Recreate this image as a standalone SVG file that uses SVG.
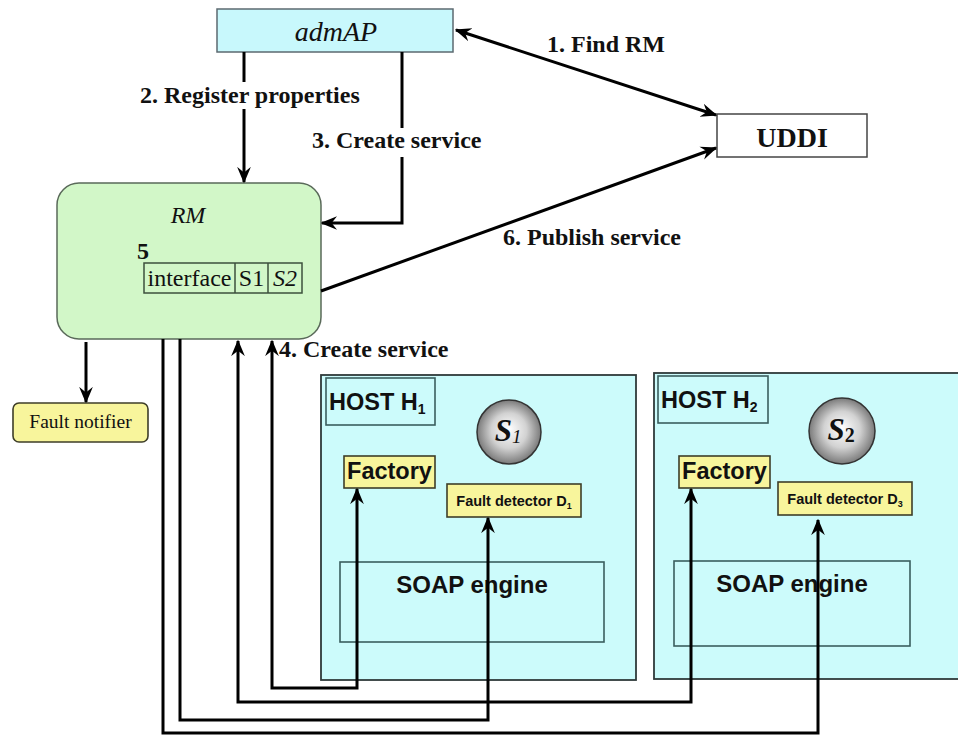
<svg xmlns="http://www.w3.org/2000/svg" width="958" height="735" viewBox="0 0 958 735">
  <defs>
    <style>
      .lbl { font-family: "Liberation Serif", "Times New Roman", serif; font-weight: bold; font-size: 24px; fill: #111; }
      .serif { font-family: "Liberation Serif", "Times New Roman", serif; fill: #111; }
      .sans { font-family: "Liberation Sans", Arial, sans-serif; font-weight: bold; fill: #111; }
      .wire { fill: none; stroke: #000; stroke-width: 3; }
      .host { fill: #ccfbfb; stroke: #2f3a3a; stroke-width: 1.8; }
      .inner { fill: none; stroke: #3a5e5e; stroke-width: 1.6; }
      .yellow { fill: #f8f59c; stroke: #3e3e28; stroke-width: 1.6; }
    </style>
    <marker id="arrow" viewBox="0 0 12 10" refX="11" refY="5" markerWidth="5.5" markerHeight="5.5" orient="auto-start-reverse" markerUnits="strokeWidth">
      <path d="M0,0 L12,5 L0,10 L4,5 z" fill="#000"/>
    </marker>
    <radialGradient id="ball" cx="50%" cy="50%" r="50%" fx="50%" fy="45%">
      <stop offset="0" stop-color="#ffffff"/>
      <stop offset="0.55" stop-color="#d2d2d2"/>
      <stop offset="1" stop-color="#7a7a7a"/>
    </radialGradient>
  </defs>

  <rect width="958" height="735" fill="#ffffff"/>

  <!-- admin access point -->
  <g id="admAP">
    <rect x="217" y="9" width="236" height="43" fill="#c8f8fc" stroke="#5c6a70" stroke-width="1.5"/>
    <text x="336" y="41" class="serif" font-style="italic" font-size="28" text-anchor="middle">admAP</text>
  </g>

  <!-- registry -->
  <g id="UDDI">
    <rect x="717" y="114" width="150" height="43" fill="#ffffff" stroke="#444" stroke-width="1.5"/>
    <text x="792" y="147" class="serif" font-weight="bold" font-size="28" text-anchor="middle">UDDI</text>
  </g>

  <!-- resource manager -->
  <g id="RM">
    <rect x="57" y="183" width="264" height="156" rx="22" ry="22" fill="#d2f7c8" stroke="#5a6a5a" stroke-width="1.5"/>
    <text x="188" y="223" class="serif" font-style="italic" font-size="24" text-anchor="middle">RM</text>
    <text x="137" y="259" class="serif" font-weight="bold" font-size="24">5</text>
    <rect x="144" y="263" width="158" height="30" fill="none" stroke="#3c503c" stroke-width="1.5"/>
    <line x1="235" y1="263" x2="235" y2="293" stroke="#3c503c" stroke-width="1.5"/>
    <line x1="268" y1="263" x2="268" y2="293" stroke="#3c503c" stroke-width="1.5"/>
    <text x="189.5" y="286" class="serif" font-size="24" text-anchor="middle">interface</text>
    <text x="251.5" y="286" class="serif" font-size="24" text-anchor="middle">S1</text>
    <text x="285" y="286" class="serif" font-size="24" text-anchor="middle" font-style="italic">S2</text>
  </g>

  <!-- fault notifier -->
  <g id="fault-notifier">
    <rect x="13" y="403" width="135" height="39" rx="6" ry="6" class="yellow"/>
    <text x="80.5" y="428" class="serif" font-size="19.5" text-anchor="middle">Fault notifier</text>
  </g>

  <!-- host 1 -->
  <g id="host-h1">
    <rect x="321" y="375" width="315" height="305" class="host"/>
    <rect x="326" y="378" width="109" height="47" class="inner"/>
    <text x="329" y="410" class="sans" font-size="23.5">HOST H<tspan font-size="14" dy="4">1</tspan></text>
  </g>
  <g id="service-s1">
    <circle cx="509" cy="432" r="32" fill="url(#ball)" stroke="#333" stroke-width="1.5"/>
    <text x="508" y="441" class="serif" font-style="italic" font-weight="bold" font-size="31" text-anchor="middle">S<tspan font-size="19" dy="2" font-weight="normal">1</tspan></text>
  </g>
  <g id="factory-h1">
    <rect x="344" y="456" width="91" height="32" class="yellow"/>
    <text x="389.5" y="479" class="sans" font-size="23.5" text-anchor="middle">Factory</text>
  </g>
  <g id="detector-d1">
    <rect x="447" y="484" width="134" height="33" class="yellow"/>
    <text x="514" y="506" class="sans" font-size="14.5" text-anchor="middle">Fault detector D<tspan font-size="9" dy="3">1</tspan></text>
  </g>
  <g id="soap-h1">
    <rect x="340" y="562" width="264" height="80" class="inner"/>
    <text x="472" y="593" class="sans" font-size="24" text-anchor="middle">SOAP engine</text>
  </g>

  <!-- host 2 -->
  <g id="host-h2">
    <rect x="654" y="373" width="310" height="306" class="host"/>
    <rect x="658" y="376" width="110" height="47" class="inner"/>
    <text x="661" y="408" class="sans" font-size="23.5">HOST H<tspan font-size="14" dy="4">2</tspan></text>
  </g>
  <g id="service-s2">
    <circle cx="842" cy="431" r="33" fill="url(#ball)" stroke="#333" stroke-width="1.5"/>
    <text x="841" y="440" class="serif" font-style="italic" font-weight="bold" font-size="31" text-anchor="middle">S<tspan font-size="20" dy="2" font-style="normal">2</tspan></text>
  </g>
  <g id="factory-h2">
    <rect x="679" y="456" width="91" height="32" class="yellow"/>
    <text x="724.5" y="479" class="sans" font-size="23.5" text-anchor="middle">Factory</text>
  </g>
  <g id="detector-d3">
    <rect x="778" y="482" width="134" height="33" class="yellow"/>
    <text x="845" y="504" class="sans" font-size="14.5" text-anchor="middle">Fault detector D<tspan font-size="9" dy="3">3</tspan></text>
  </g>
  <g id="soap-h2">
    <rect x="674" y="561" width="236" height="85" class="inner"/>
    <text x="792" y="592" class="sans" font-size="24" text-anchor="middle">SOAP engine</text>
  </g>

  <!-- connectors -->
  <g id="connectors">
    <!-- 1. Find RM -->
    <line x1="456" y1="30" x2="716" y2="115" class="wire" marker-start="url(#arrow)" marker-end="url(#arrow)"/>
    <!-- 2. Register properties -->
    <line x1="244" y1="52" x2="244" y2="82" class="wire"/>
    <line x1="244" y1="109" x2="244" y2="182" class="wire" marker-end="url(#arrow)"/>
    <!-- 3. Create service -->
    <line x1="402" y1="52" x2="402" y2="128" class="wire"/>
    <path d="M402,157 V223 H322" class="wire" marker-end="url(#arrow)"/>
    <!-- 6. Publish service -->
    <line x1="321" y1="291" x2="716" y2="148" class="wire" marker-end="url(#arrow)"/>
    <!-- RM to fault notifier -->
    <line x1="86" y1="342" x2="86" y2="402" class="wire" marker-end="url(#arrow)"/>
    <!-- 4. Create service: RM and the factories -->
    <path d="M272,341 V688 H357 V489" class="wire" marker-start="url(#arrow)" marker-end="url(#arrow)"/>
    <path d="M238,341 V702 H691 V489" class="wire" marker-start="url(#arrow)" marker-end="url(#arrow)"/>
    <!-- RM to the fault detectors -->
    <path d="M180,339 V720 H488 V518" class="wire" marker-end="url(#arrow)"/>
    <path d="M163,339 V733 H818 V520" class="wire" marker-end="url(#arrow)"/>
  </g>

  <!-- connector labels -->
  <g id="labels">
    <text x="140" y="103" class="lbl">2. Register properties</text>
    <text x="312" y="148" class="lbl">3. Create service</text>
    <text x="547" y="52" class="lbl">1. Find RM</text>
    <text x="503" y="245" class="lbl">6. Publish service</text>
    <text x="279" y="357" class="lbl">4. Create service</text>
  </g>
</svg>
